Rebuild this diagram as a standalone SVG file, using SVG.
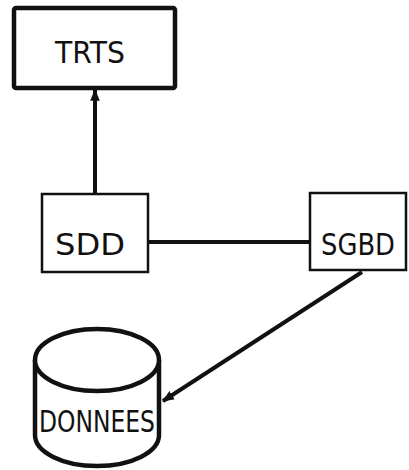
<svg xmlns="http://www.w3.org/2000/svg" width="409" height="470" viewBox="0 0 409 470">
<defs>
<style>
.box{fill:#fff;stroke:#111;stroke-width:2.5}
.thick{stroke-width:4.5}
.lbl{font-family:"DejaVu Sans","Liberation Sans",sans-serif;font-size:31px;fill:#111}
.ln{stroke:#111;fill:none;stroke-width:4}
</style>
<marker id="ah" viewBox="0 0 10 10" refX="9" refY="5" markerWidth="3" markerHeight="3" orient="auto" markerUnits="strokeWidth">
<path d="M0,1 L10,5 L0,9 z" fill="#111"/>
</marker>
</defs>
<rect width="409" height="470" fill="#fff"/>
<g id="connectors">
<line class="ln" x1="95" y1="194" x2="95" y2="90" marker-end="url(#ah)"/>
<line class="ln" x1="148" y1="242" x2="310" y2="242"/>
<line class="ln" x1="362" y1="272" x2="163" y2="401" marker-end="url(#ah)"/>
</g>
<g id="TRTS">
<rect class="box thick" x="14" y="8" width="161" height="80" rx="2"/>
<text class="lbl" x="90" y="63" text-anchor="middle" textLength="70" lengthAdjust="spacingAndGlyphs">TRTS</text>
</g>
<g id="SGBD">
<rect class="box" x="310" y="193" width="96" height="77"/>
<text class="lbl" x="358" y="255" text-anchor="middle" textLength="74" lengthAdjust="spacingAndGlyphs">SGBD</text>
</g>
<g id="SDD">
<rect class="box" x="42" y="194" width="106" height="78"/>
<text class="lbl" x="90" y="255" text-anchor="middle" textLength="70" lengthAdjust="spacingAndGlyphs">SDD</text>
</g>
<g id="DONNEES">
<path d="M35,360 L35,435 A62,31 0 0 0 159,435 L159,360" fill="#fff" stroke="#111" stroke-width="4.5"/>
<ellipse cx="97" cy="360" rx="62" ry="31" fill="#fff" stroke="#111" stroke-width="4.5"/>
<text class="lbl" x="97" y="432" text-anchor="middle" textLength="116" lengthAdjust="spacingAndGlyphs">DONNEES</text>
</g>
</svg>
